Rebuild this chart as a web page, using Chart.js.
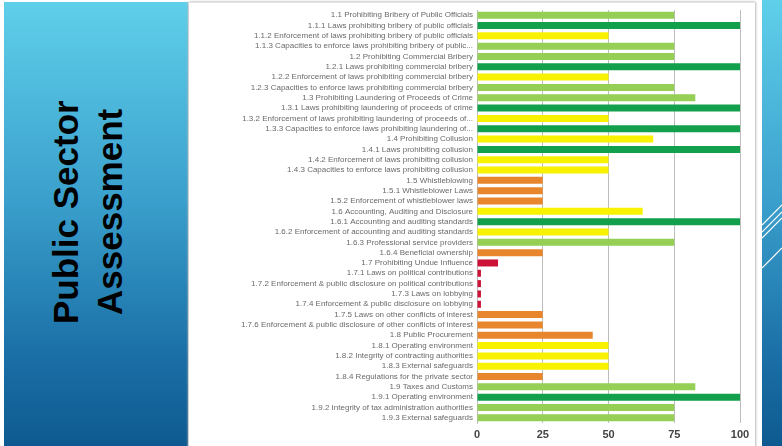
<!DOCTYPE html>
<html>
<head>
<meta charset="utf-8">
<script src="https://cdn.jsdelivr.net/npm/chart.js@4"></script>
<style>
  html, body { margin: 0; padding: 0; }
  body { width: 782px; height: 446px; position: relative; overflow: hidden; background: #fff; }
  #side {
    position: absolute; left: 4px; top: 2px; width: 184px; height: 444px;
    background: linear-gradient(to bottom, #5fcfea 0%, #3a9fcc 45%, #1a6fa6 80%, #0e5a90 100%);
  }
  .vtext {
    position: absolute; font-family: "Liberation Sans", Arial, sans-serif; font-weight: bold;
    font-size: 35px; color: #000; white-space: nowrap;
    transform-origin: 0 0; transform: rotate(-90deg);
  }
  #panel {
    position: absolute; left: 189px; top: 2px; width: 566px; height: 446px;
    background: #fff; box-shadow: -1px 0 2px #bbb, 1px 0 2px #bbb; border-top: 1px solid #e4e4e4;
  }
  #right {
    position: absolute; left: 762px; top: 0; width: 20px; height: 446px;
    background: linear-gradient(to bottom, #5fcfea 0%, #3a9fcc 45%, #1a6fa6 80%, #0e5a90 100%);
  }
  #chartWrap { position: absolute; left: 188px; top: 0; width: 570px; height: 446px; }
</style>
</head>
<body>
<div id="side">
  <div class="vtext" style="left:42px; top:322px;">Public Sector</div>
  <div class="vtext" style="left:86px; top:313px;">Assessment</div>
</div>
<div id="right">
  <svg width="20" height="446">
    <g stroke="#fff" stroke-width="1.2">
      <line x1="0" y1="225" x2="20" y2="205"/>
      <line x1="0" y1="232" x2="20" y2="212"/>
      <line x1="0" y1="238" x2="20" y2="218"/>
      <line x1="0" y1="268" x2="20" y2="248"/>
    </g>
  </svg>
</div>
<div id="panel"></div>
<div id="chartWrap"><canvas id="chartScore" width="570" height="446"></canvas></div>

<script>
// indikator sektor publik
const labels = [
  '1.1 Prohibiting Bribery of Public Officials',
  '1.1.1 Laws prohibiting bribery of public officials',
  '1.1.2 Enforcement of laws prohibiting bribery of public officials',
  '1.1.3 Capacities to enforce laws prohibiting bribery of public...',
  '1.2 Prohibiting Commercial Bribery',
  '1.2.1 Laws prohibiting commercial bribery',
  '1.2.2 Enforcement of laws prohibiting commercial bribery',
  '1.2.3 Capacities to enforce laws prohibiting commercial bribery',
  '1.3 Prohibiting Laundering of Proceeds of Crime',
  '1.3.1 Laws prohibiting laundering of proceeds of crime',
  '1.3.2 Enforcement of laws prohibiting laundering of proceeds of...',
  '1.3.3 Capacities to enforce laws prohibiting laundering of...',
  '1.4 Prohibiting Collusion',
  '1.4.1 Laws prohibiting collusion',
  '1.4.2 Enforcement of laws prohibiting collusion',
  '1.4.3 Capacities to enforce laws prohibiting collusion',
  '1.5 Whistleblowing',
  '1.5.1 Whistleblower Laws',
  '1.5.2 Enforcement of whistleblower laws',
  '1.6 Accounting, Auditing and Disclosure',
  '1.6.1 Accounting and auditing standards',
  '1.6.2 Enforcement of accounting and auditing standards',
  '1.6.3 Professional service providers',
  '1.6.4 Beneficial ownership',
  '1.7 Prohibiting Undue Influence',
  '1.7.1 Laws on political contributions',
  '1.7.2 Enforcement & public disclosure on political contributions',
  '1.7.3 Laws on lobbying',
  '1.7.4 Enforcement & public disclosure on lobbying',
  '1.7.5 Laws on other conflicts of interest',
  '1.7.6 Enforcement & public disclosure of other conflicts of interest',
  '1.8 Public Procurement',
  '1.8.1 Operating environment',
  '1.8.2 Integrity of contracting authorities',
  '1.8.3 External safeguards',
  '1.8.4 Regulations for the private sector',
  '1.9 Taxes and Customs',
  '1.9.1 Operating environment',
  '1.9.2 Integrity of tax administration authorities',
  '1.9.3 External safeguards'
];

const scores = [
  75, 100, 50, 75,
  75, 100, 50, 75,
  83, 100, 50, 100,
  67, 100, 50, 50,
  25, 25, 25,
  63, 100, 50, 75, 25,
  8, 1.5, 1.5, 1.5, 1.5, 25, 25,
  44, 50, 50, 50, 25,
  83, 100, 75, 75
];

const xTicks = [0, 25, 50, 75, 100];

// warna per tingkat skor
function scoreColor(v) {
  if (v >= 100) return '#12a04d';
  if (v >= 75) return '#95cf55';
  if (v >= 50) return '#f8f200';
  if (v >= 20) return '#e8862e';
  return '#cc1236';
}

const ctx = document.getElementById('chartScore');

new Chart(ctx, {
  type: 'bar',
  data: {
    labels: labels,
    datasets: [{
      data: scores,
      backgroundColor: scores.map(scoreColor),
      borderWidth: 0,
      barPercentage: 0.68,
      categoryPercentage: 1
    }]
  },
  options: {
    indexAxis: 'y',
    responsive: false,
    animation: false,
    layout: { padding: { top: 10, right: 18, bottom: 0, left: 0 } },
    plugins: {
      legend: { display: false },
      tooltip: { enabled: false }
    },
    scales: {
      x: {
        min: 0,
        max: 100,
        afterBuildTicks: (axis) => { axis.ticks = xTicks.map(v => ({ value: v })); },
        afterFit: (axis) => { axis.height = 23; },
        grid: { color: '#bdbdbd', lineWidth: 1, drawTicks: false },
        border: { display: false },
        ticks: { padding: 5, color: '#444', font: { family: 'Liberation Sans', size: 11, weight: 'bold' } }
      },
      y: {
        afterFit: (axis) => { axis.width = 289; },
        grid: { display: false, drawTicks: false },
        border: { display: true, color: '#bdbdbd' },
        ticks: { padding: 4, autoSkip: false, color: '#6a6a6a', font: { family: 'Liberation Sans', size: 8 } }
      }
    }
  }
});
</script>
</body>
</html>
